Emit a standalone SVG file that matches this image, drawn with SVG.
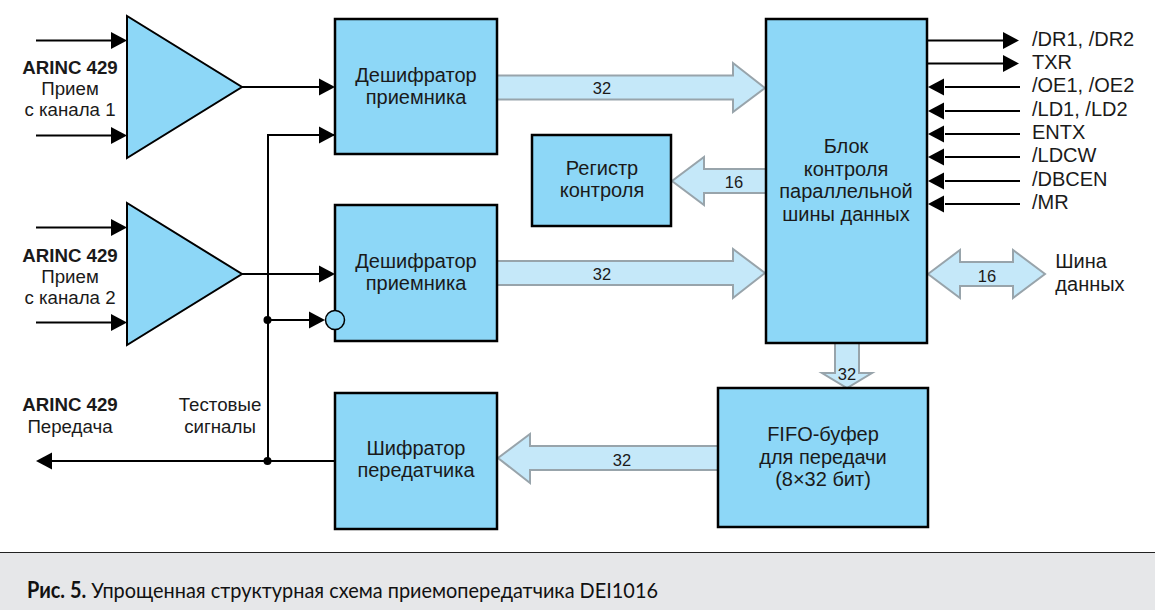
<svg xmlns="http://www.w3.org/2000/svg" width="1155" height="610" viewBox="0 0 1155 610">
<style>
text{font-family:"Liberation Sans",Arial,sans-serif;font-size:20px;fill:#1a1a1a;text-anchor:middle}
.l{font-size:18.7px}
.b{font-weight:700;font-size:18.7px}
.s{text-anchor:start}
.n{font-size:16.500px}
.box{fill:#8dd7f7;stroke:#000;stroke-width:2.5}
.bus{fill:#c5e8f9;stroke:#98a4ab;stroke-width:2}
.w{fill:none;stroke:#000;stroke-width:2}
.h{fill:#000;stroke:none}
.cap{font-family:"Lato","Open Sans",sans-serif;font-size:22px;text-anchor:start;fill:#111}
</style>
<defs>
<path id="r" class="h" d="M-16,-8.500L0,0L-16,8.500Z"/>
</defs>
<rect width="1155" height="610" fill="#fff"/>
<g id="caption-band">
<rect x="0" y="552" width="1155" height="58" fill="#e6e7e9"/>
<line x1="0" y1="552.500" x2="1155" y2="552.500" stroke="#222" stroke-width="1"/>
<text class="cap" x="27" y="598" textLength="631" lengthAdjust="spacingAndGlyphs"><tspan font-weight="700">Рис. 5.</tspan> Упрощенная структурная схема приемопередатчика DEI1016</text>
</g>
<g id="connectors">
<path class="w" d="M36,40.500H112M36,135.500H112M36,227.500H112M36,322.500H112"/>
<path class="w" d="M242,87H320M242,274H320M268,320H310M335,135H268V461"/>
<path class="w" d="M335,461H52"/>
<path class="w" d="M927,40.500H1004M927,63.500H1004M945,87H1020M945,111H1020M945,134H1020M945,157H1020M945,181H1020M945,204H1020"/>
<use href="#r" x="127" y="40.500"/>
<use href="#r" x="127" y="135.500"/>
<use href="#r" x="127" y="227.500"/>
<use href="#r" x="127" y="322.500"/>
<use href="#r" x="335" y="87"/>
<use href="#r" x="335" y="135"/>
<use href="#r" x="335" y="274"/>
<use href="#r" x="325" y="320"/>
<use href="#r" transform="translate(36,461) rotate(180)"/>
<use href="#r" x="1019" y="40.500"/>
<use href="#r" x="1019" y="63.500"/>
<use href="#r" transform="translate(928,87) rotate(180)"/>
<use href="#r" transform="translate(928,111) rotate(180)"/>
<use href="#r" transform="translate(928,134) rotate(180)"/>
<use href="#r" transform="translate(928,157) rotate(180)"/>
<use href="#r" transform="translate(928,181) rotate(180)"/>
<use href="#r" transform="translate(928,204) rotate(180)"/>
<circle cx="267.500" cy="320" r="4" fill="#000"/>
<circle cx="267.500" cy="461" r="4" fill="#000"/>
<path class="bus" d="M497,75.500H733V63L765,88L733,112V99.500H497Z"/>
<path class="bus" d="M497,261H733V249L765,273L733,298V285H497Z"/>
<path class="bus" d="M766,169H704V157L672,181L704,205V193H766Z"/>
<path class="bus" d="M718,446H530V434L498,458L530,483V470H718Z"/>
<path class="bus" d="M835,343V373H822L847,388L872,373H859V343Z"/>
<path class="bus" d="M928,274L960,250V262H1013V250L1045,274L1013,298V286H960V298Z"/>
</g>
<g id="amp1"><path class="box" style="stroke-width:2" d="M127,16V158L242,87Z"/></g>
<g id="amp2"><path class="box" style="stroke-width:2" d="M127,203V345L242,274Z"/></g>
<g id="dec1"><rect class="box" x="335" y="19" width="162" height="135"/>
<text x="416" y="82">Дешифратор</text><text x="416" y="104">приемника</text></g>
<g id="dec2"><rect class="box" x="335" y="205" width="162" height="136"/>
<text x="416" y="268">Дешифратор</text><text x="416" y="290">приемника</text></g>
<g id="inv"><circle cx="335" cy="320" r="9.500" fill="#8dd7f7" stroke="#000" stroke-width="1.500"/></g>
<g id="enc"><rect class="box" x="335" y="393" width="162" height="136"/>
<text x="416" y="455">Шифратор</text><text x="416" y="477">передатчика</text></g>
<g id="reg"><rect class="box" x="532" y="135" width="139" height="91"/>
<text x="602" y="175">Регистр</text><text x="602" y="197">контроля</text></g>
<g id="ctrl"><rect class="box" x="766" y="19" width="161" height="324"/>
<text x="846" y="153">Блок</text><text x="846" y="176">контроля</text><text x="846" y="198">параллельной</text><text x="846" y="221">шины данных</text></g>
<g id="fifo"><rect class="box" x="718" y="388" width="210" height="139"/>
<text x="823" y="441">FIFO-буфер</text><text x="823" y="464">для передачи</text><text x="823" y="486">(8×32 бит)</text></g>
<g id="labels">
<text class="b" x="70" y="74">ARINC 429</text><text class="l" x="70" y="95">Прием</text><text class="l" x="70" y="116">с канала 1</text>
<text class="b" x="70" y="262">ARINC 429</text><text class="l" x="70" y="283">Прием</text><text class="l" x="70" y="304">с канала 2</text>
<text class="b" x="70" y="411">ARINC 429</text><text class="l" x="70" y="433">Передача</text>
<text class="l" x="220" y="411">Тестовые</text><text class="l" x="220" y="433">сигналы</text>
<text class="s" x="1032" y="46">/DR1, /DR2</text>
<text class="s" x="1032" y="69">TXR</text>
<text class="s" x="1032" y="92">/OE1, /OE2</text>
<text class="s" x="1032" y="116">/LD1, /LD2</text>
<text class="s" x="1032" y="139">ENTX</text>
<text class="s" x="1032" y="162">/LDCW</text>
<text class="s" x="1032" y="186">/DBCEN</text>
<text class="s" x="1032" y="209">/MR</text>
<text x="1081" y="268">Шина</text><text x="1090" y="291">данных</text>
<text class="n" x="602" y="94">32</text>
<text class="n" x="602" y="280">32</text>
<text class="n" x="734" y="188">16</text>
<text class="n" x="622" y="466">32</text>
<text class="n" x="847" y="380">32</text>
<text class="n" x="987" y="282">16</text>
</g>
</svg>
